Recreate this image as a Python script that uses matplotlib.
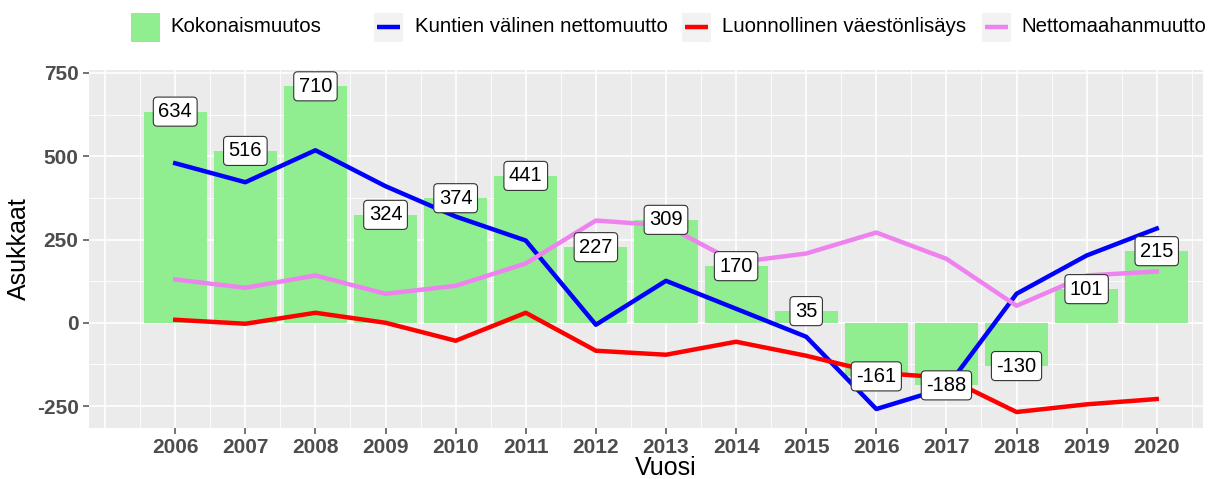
import numpy as np
import matplotlib.pyplot as plt
from matplotlib.patches import Rectangle
from matplotlib.lines import Line2D

plt.rcParams['font.family'] = ['Liberation Sans', 'DejaVu Sans']
plt.rcParams['axes.unicode_minus'] = False

vuodet = list(range(2006, 2021))
kokonaismuutos = [634, 516, 710, 324, 374, 441, 227, 309, 170, 35, -161, -188, -130, 101, 215]
kuntien_valinen = [479, 422, 518, 410, 319, 247, -6, 126, 42, -42, -259, -195, 87, 202, 283]
luonnollinen = [9, -3, 30, 0, -54, 30, -84, -96, -57, -99, -150, -165, -268, -245, -229]
maahanmuutto = [130, 105, 142, 87, 111, 178, 307, 292, 181, 208, 271, 192, 51, 142, 154]

W, H = 1212, 479
fig = plt.figure(figsize=(W / 100, H / 100), dpi=100)
ax = fig.add_axes([89 / W, 1 - 428 / H, 1114 / W, 358 / H])
ax.set_facecolor('#EBEBEB')
for s in ax.spines.values():
    s.set_visible(False)

# ggplot-ish grid
for x in np.arange(2005, 2020.6, 0.5):
    ax.axvline(x, color='white', lw=0.6 if x % 1 else 1.2, zorder=0)
for y in np.arange(-250, 751, 125):
    ax.axhline(y, color='white', lw=0.6 if y % 250 else 1.2, zorder=0)

ax.bar(vuodet, kokonaismuutos, width=0.9, color='#90EE90', zorder=1)
ax.plot(vuodet, kuntien_valinen, color='blue', lw=3.2, zorder=2)
ax.plot(vuodet, luonnollinen, color='red', lw=3.2, zorder=2)
ax.plot(vuodet, maahanmuutto, color='violet', lw=3.2, zorder=2)

for x, v in zip(vuodet, kokonaismuutos):
    ax.text(x, v, str(v), ha='center', va='center', fontsize=14.5, zorder=3,
            bbox=dict(boxstyle='round,pad=0.25,rounding_size=0.2', fc='white', ec='#333333', lw=0.8))

ax.set_xlim(2004.77, 2020.66)
ax.set_ylim(-316, 759)
ax.set_xticks(vuodet)
ax.set_yticks([-250, 0, 250, 500, 750])
ax.tick_params(colors='#4D4D4D', labelsize=15, length=4, width=1.1)
for lab in ax.get_xticklabels() + ax.get_yticklabels():
    lab.set_fontweight('bold')
ax.set_xlabel('Vuosi', fontsize=18, labelpad=0)
ax.xaxis.set_label_coords((666 - 89) / 1114, -0.078)
ax.set_ylabel('Asukkaat', fontsize=18, labelpad=4)

# legend on top, drawn by hand
labels = ['Kokonaismuutos', 'Kuntien välinen nettomuutto',
          'Luonnollinen väestönlisäys', 'Nettomaahanmuutto']
colors = ['#90EE90', 'blue', 'red', 'violet']
key_left = [131, 374, 682, 982]
text_left = [170, 415, 722, 1021]
yc = 27
kw, kh = 29, 29
for i, (lab, c) in enumerate(zip(labels, colors)):
    x0 = key_left[i]
    if i == 0:
        fig.patches.append(Rectangle((x0 / W, 1 - (yc + kh / 2) / H), kw / W, kh / H,
                                     transform=fig.transFigure, fc=c, ec='none'))
    else:
        fig.patches.append(Rectangle((x0 / W, 1 - (yc + kh / 2) / H), kw / W, kh / H,
                                     transform=fig.transFigure, fc='#F2F2F2', ec='none'))
        fig.lines.append(Line2D([(x0 + 3) / W, (x0 + kw - 3) / W], [1 - yc / H, 1 - yc / H],
                                transform=fig.transFigure, color=c, lw=3.2, solid_capstyle='butt'))
    fig.text(text_left[i] / W, 1 - yc / H, lab, fontsize=14.7, va='center', ha='left')

fig.savefig('out.png', dpi=100)
